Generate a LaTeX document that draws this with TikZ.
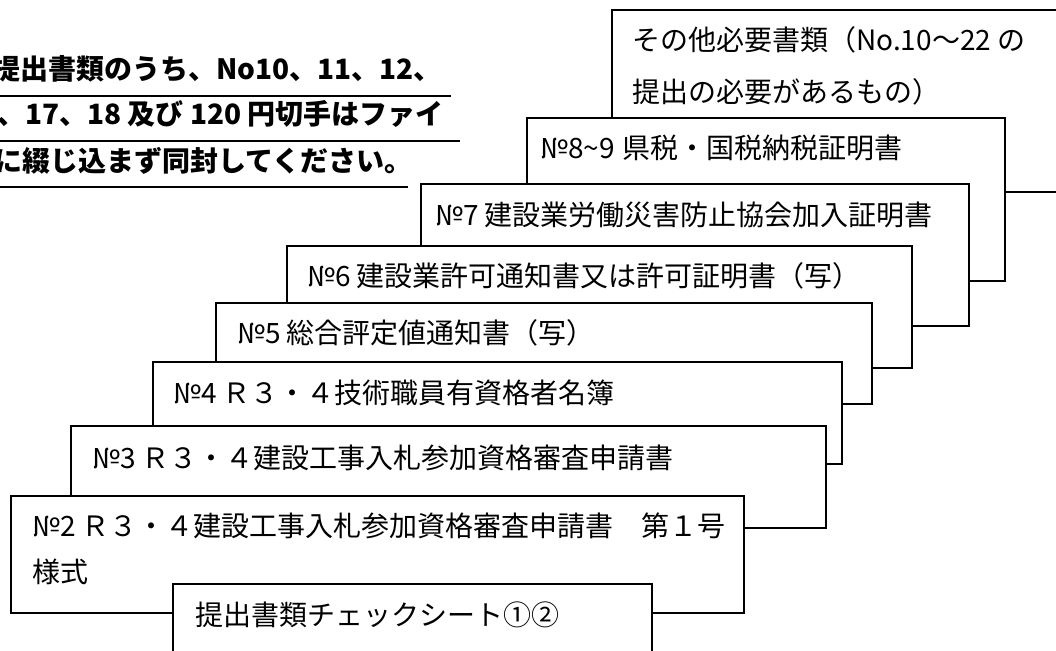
\documentclass[tikz,border=0pt]{standalone}
\usepackage{fontspec}
\setmainfont{Noto Sans CJK JP}
\begin{document}
\begin{tikzpicture}[x=0.75pt,y=-0.75pt,
  docbox/.style={draw=black,line width=1.2pt,fill=white},
  doctext/.style={anchor=west,inner sep=0pt,font=\fontsize{21}{25}\selectfont},
  headtext/.style={anchor=west,inner sep=0pt,font=\fontsize{21}{25}\selectfont\bfseries},
  uline/.style={line width=1.4pt}]
\useasboundingbox (0,0) rectangle (1056,650);
% header note (clipped at the left edge)
\node[headtext] (h1) at (-8,69) {提出書類のうち、No10、11、12、};
\node[headtext] (h2) at (-3,114) {、17、18 及び 120 円切手はファイ};
\node[headtext] (h3) at (-6,161) {に綴じ込まず同封してください。};
\draw[uline] (0,96) -- (451,96);
\draw[uline] (0,141) -- (460,141);
\draw[uline] (0,187) -- (408,187);
% stacked documents, back to front
\draw[docbox] (612,10) rectangle (1080,192);
\node[doctext] (tA1) at (632,40) {その他必要書類（No.10～22 の};
\node[doctext] (tA2) at (632,92) {提出の必要があるもの）};
\draw[docbox] (527,118) rectangle (1005,281);
\node[doctext] (tB) at (540,148) {№8\textasciitilde9\hspace{6pt}県税・国税納税証明書};
\draw[docbox] (421,184) rectangle (969,326);
\node[doctext] (tC) at (435,215) {№7 建設業労働災害防止協会加入証明書};
\draw[docbox] (287,246) rectangle (912,368);
\node[doctext] (tD) at (307,276) {№6 建設業許可通知書又は許可証明書（写）};
\draw[docbox] (216,303) rectangle (872,404);
\node[doctext] (tE) at (237,333) {№5 総合評定値通知書（写）};
\draw[docbox] (153,362) rectangle (842,464);
\node[doctext] (tF) at (173,393) {№4 Ｒ３・４技術職員有資格者名簿};
\draw[docbox] (71,426) rectangle (826,528);
\node[doctext] (tG) at (92,458) {№3 Ｒ３・４建設工事入札参加資格審査申請書};
\draw[docbox] (11,496) rectangle (744,613);
\node[doctext] (tH1) at (32,526) {№2 Ｒ３・４建設工事入札参加資格審査申請書　第１号};
\node[doctext] (tH2) at (32,572) {様式};
\draw[docbox] (173,584) rectangle (652,670);
\node[doctext] (tI) at (195,615) {提出書類チェックシート①②};
\end{tikzpicture}
\end{document}
